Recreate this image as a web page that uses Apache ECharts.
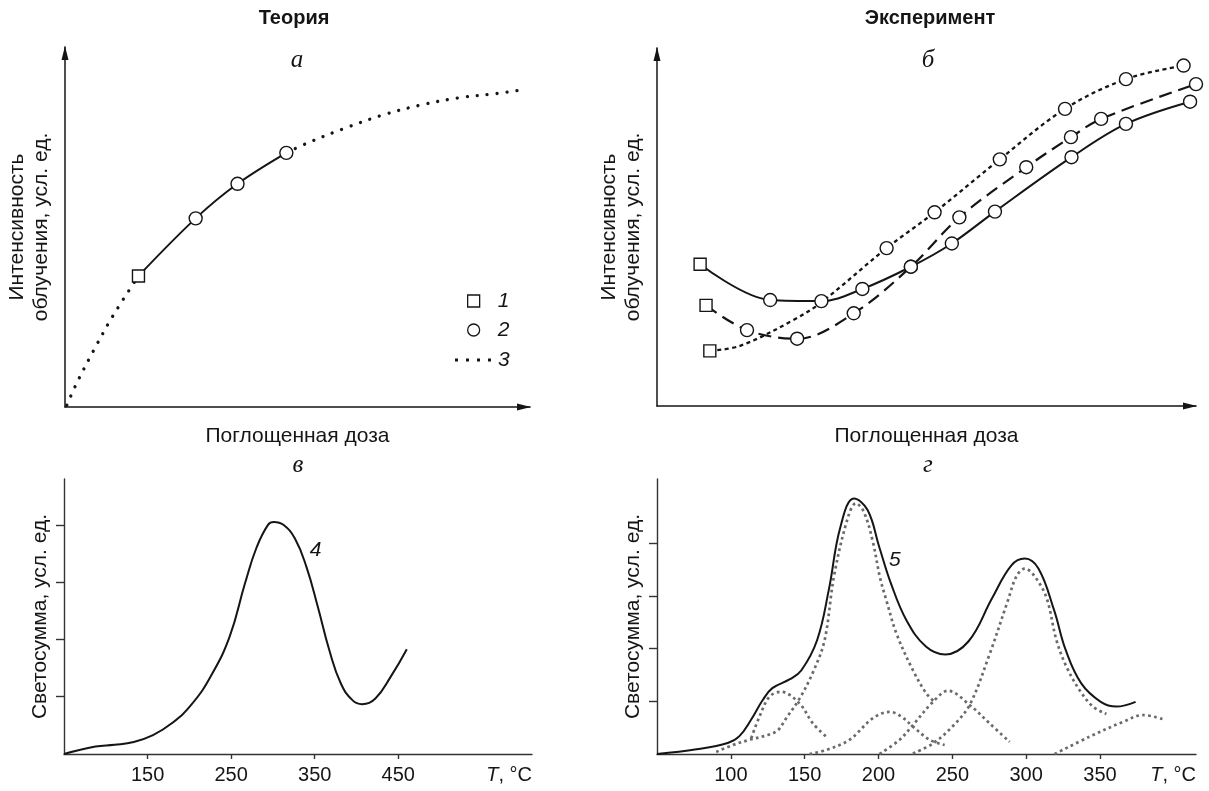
<!DOCTYPE html>
<html><head><meta charset="utf-8">
<script src="https://cdn.jsdelivr.net/npm/echarts@6/dist/echarts.min.js"></script>
<style>html,body{margin:0;padding:0;background:#fff}#c{width:1209px;height:791px}</style>
</head><body><div id="c"></div>
<script>
// ---------- Panel а (theory): dose vs intensity, arbitrary units 0..100 ----------
var aTheoryLow  = [[0.4,0.5],[2.5,6.6],[6.2,15.8],[10.2,25.1],[15.8,36.4]];
var aTheoryHigh = [[47.6,70.6],[51.9,73.2],[60.1,77.4],[68.3,81.1],[76.6,83.9],[84.8,85.9],[93.0,87.1],[98.3,88.1]];
var aSquare  = [15.8,36.4];
var aCircles = [[28.1,52.4],[37.1,62.0],[47.6,70.6]];

// ---------- Panel б (experiment) ----------
var bSolid  = [[8.0,39.6],[21.0,29.6],[30.5,29.3],[38.1,32.7],[47.1,38.9],[54.7,45.4],[62.7,54.3],[76.9,69.5],[87.0,78.8],[98.9,85.0]];
var bDashed = [[9.1,28.1],[16.7,21.2],[26.0,18.8],[36.5,25.9],[47.1,38.9],[56.1,52.7],[68.5,66.7],[76.8,75.1],[82.4,80.2],[100,89.9]];
var bDotted = [[9.8,15.4],[15.4,16.8],[25.3,24.0],[30.6,29.1],[42.6,44.1],[51.5,54.1],[63.6,68.9],[75.7,83.0],[87.0,91.3],[97.7,95.1]];
var bDottedMarks = bDotted.slice(4);

// ---------- Panel в: glow curve 4 (T, °C vs light sum) ----------
var vTicks = [150,250,350,450];
var vCurve = [[50,0],[87.6,0.13],[110.5,0.16],[133.5,0.21],[156.5,0.33],[179.4,0.54],[202.4,0.86],[225.3,1.35],[248.2,2.05],[266.6,2.98],[280.3,3.6],[294.1,4.0],[301,4.05],[312.5,4.0],[326.3,3.76],[340,3.27],[353.7,2.57],[367.5,1.81],[381.3,1.23],[395.1,0.94],[406.5,0.87],[422.6,0.97],[441,1.35],[460.2,1.83]];
var vLabel = [[351,3.56]];

// ---------- Panel г: glow curve 5 and its components ----------
var gTicks = [100,150,200,250,300,350];
var gSum = [[50,0],[76.8,0.09],[97.9,0.21],[105.8,0.34],[113.7,0.65],[121.5,1.02],[128.1,1.25],[140,1.42],[147.8,1.59],[158.4,2.16],[166.3,3.11],[174.2,4.31],[183.4,4.85],[192.6,4.63],[200.5,3.93],[208.4,3.24],[218.9,2.54],[232.1,2.04],[245.2,1.89],[261,2.14],[276.8,2.95],[290,3.58],[299.1,3.71],[308.3,3.52],[318.9,2.73],[326.8,1.97],[337.3,1.34],[350.5,0.99],[361,0.90],[374.1,0.99]];
var gComp1 = [[113.8,0.30],[119.4,0.71],[126.2,1.09],[134.1,1.18],[146.5,0.96],[155.6,0.58],[165.7,0.30]];
var gComp2 = [[90.1,0.04],[101.4,0.17],[112.7,0.27],[125,0.36],[131.8,0.45],[137.5,0.68],[146.5,1.05],[155.6,1.55],[163.5,2.16],[170,3.4],[179.4,4.5],[184.7,4.76],[190,4.6],[196,4.05],[201,3.35],[205.3,2.92],[212.1,2.29],[223.3,1.59],[232.4,1.15],[238,0.99]];
var gComp3 = [[153.3,0],[165,0.08],[180.4,0.27],[196.2,0.68],[207.5,0.8],[215,0.72],[223.3,0.52],[234.6,0.27],[244.8,0.17]];
var gComp4 = [[200.7,0],[214.3,0.27],[223.3,0.55],[236.9,0.99],[247,1.2],[261.7,0.93],[275.3,0.58],[288.8,0.23]];
var gComp5 = [[223.3,0.01],[236.9,0.2],[250,0.52],[261.7,0.93],[275.3,1.9],[287.7,2.92],[293.5,3.38],[299.1,3.52],[305,3.4],[313.6,2.98],[320.5,2.16],[327.2,1.66],[336.2,1.21],[345.2,0.9],[354.3,0.76]];
var gComp6 = [[319.3,0],[343,0.33],[365.6,0.61],[379.1,0.74],[393.8,0.65]];
var gLabel = [[211,3.68]];

var yTicks = [1,2,3,4];

// ---------- styling ----------
var FONT = '"Liberation Sans", Arial, sans-serif';
var INK = '#151515';
var GRAY = '#6a6a6a';
var markerStyle = {color:'#fff', borderColor:INK, borderWidth:1.4, opacity: 1};

function arrowAxis(gi, name, nameGap) {
  return {
    gridIndex: gi, type: 'value', min: 0, max: 100,
    axisLine: {show: true, onZero: false, symbol: ['none','triangle'], symbolSize: [7,14], symbolOffset: [0,-6], lineStyle: {color: INK, width: 1.5}},
    axisTick: {show: false}, axisLabel: {show: false}, splitLine: {show: false},
    name: name, nameLocation: 'middle', nameGap: nameGap,
    nameTextStyle: {fontFamily: FONT, fontSize: 21, color: INK, lineHeight: 24}
  };
}
function plainX(gi, min, max, ticks) {
  return {
    gridIndex: gi, type: 'value', min: min, max: max,
    axisLine: {show: true, onZero: false, lineStyle: {color: '#333', width: 1.4}},
    axisTick: {show: true, customValues: ticks, length: 5, lineStyle: {color: '#333', width: 1.4}},
    axisLabel: {show: true, customValues: ticks, margin: 11, fontFamily: FONT, fontSize: 20, color: INK},
    splitLine: {show: false},
    name: '{i|T}, °C', nameLocation: 'end', nameGap: 0,
    nameTextStyle: {align: 'right', verticalAlign: 'top', padding: [11,0,0,0], fontFamily: FONT, fontSize: 20, color: INK,
      rich: {i: {fontFamily: FONT, fontSize: 20, fontStyle: 'italic', color: INK}}}
  };
}
function plainY(gi, max) {
  return {
    gridIndex: gi, type: 'value', min: 0, max: max,
    axisLine: {show: true, onZero: false, lineStyle: {color: '#333', width: 1.4}},
    axisTick: {show: true, customValues: yTicks, length: 8, lineStyle: {color: '#333', width: 1.4}},
    axisLabel: {show: false}, splitLine: {show: false},
    name: 'Светосумма, усл. ед.', nameLocation: 'middle', nameGap: 13,
    nameTextStyle: {fontFamily: FONT, fontSize: 21, color: INK}
  };
}
function lineS(xi, data, color, width, type, z, name, cap, smooth) {
  var s = {type: 'line', xAxisIndex: xi, yAxisIndex: xi, data: data, symbol: 'none', smooth: smooth || 0.35,
    lineStyle: {color: color, width: width, type: type, cap: cap || 'butt'}, z: z || 2, silent: true};
  if (name) s.name = name;
  return s;
}
function legendItem(name, icon, left, top, w, h, itemStyle, pad) {
  return {data: [{name: name, icon: icon}], left: left, top: top, orient: 'vertical', padding: 0,
    itemWidth: w, itemHeight: h, selectedMode: false, itemStyle: itemStyle,
    textStyle: {fontFamily: FONT, fontSize: 21, fontStyle: 'italic', color: INK, lineHeight: 22, padding: [0,0,0,pad]}};
}
function curveLabel(xi, data, text) {
  return {type: 'scatter', xAxisIndex: xi, yAxisIndex: xi, data: data, symbolSize: 0, silent: true,
    itemStyle: {opacity: 1}, emphasis: {disabled: true},
    label: {show: true, formatter: text, position: 'inside', fontFamily: FONT, fontSize: 21, fontStyle: 'italic', color: INK}};
}

var dotPath = 'path://M0,0h3v3h-3z M11,0h3v3h-3z M22,0h3v3h-3z M33,0h3v3h-3z';

var option = {
  animation: false,
  backgroundColor: '#fff',
  grid: [
    {left: 65, top: 47, width: 465, height: 360},
    {left: 657, top: 48, width: 539, height: 358},
    {left: 64, top: 479, width: 468, height: 275},
    {left: 657, top: 479, width: 539, height: 275}
  ],
  xAxis: [
    arrowAxis(0, 'Поглощенная доза', 17),
    arrowAxis(1, 'Поглощенная доза', 18),
    plainX(2, 50, 610, vTicks),
    plainX(3, 50, 415, gTicks)
  ],
  yAxis: [
    arrowAxis(0, 'Интенсивность\nоблучения, усл. ед.', 12),
    arrowAxis(1, 'Интенсивность\nоблучения, усл. ед.', 12),
    plainY(2, 4.8),
    plainY(3, 5.22)
  ],
  legend: [
    legendItem('1', 'rect', 467, 290, 12, 12, {color: '#fff', borderColor: INK, borderWidth: 1.3}, 13),
    legendItem('2', 'circle', 467, 319, 12, 12, {color: '#fff', borderColor: INK, borderWidth: 1.3}, 13),
    legendItem('3', dotPath, 455, 349, 36, 3, {color: INK, borderWidth: 0}, 2)
  ],
  graphic: [
    {type: 'text', x: 294, y: 18, style: {text: 'Теория', font: 'bold 20px ' + FONT, fill: INK, align: 'center', verticalAlign: 'middle'}},
    {type: 'text', x: 930, y: 18, style: {text: 'Эксперимент', font: 'bold 20px ' + FONT, fill: INK, align: 'center', verticalAlign: 'middle'}},
    {type: 'text', x: 297, y: 60, style: {text: 'а', font: 'italic 25px "Liberation Serif", serif', fill: INK, align: 'center', verticalAlign: 'middle'}},
    {type: 'text', x: 928, y: 60, style: {text: 'б', font: 'italic 25px "Liberation Serif", serif', fill: INK, align: 'center', verticalAlign: 'middle'}},
    {type: 'text', x: 298, y: 465, style: {text: 'в', font: 'italic 25px "Liberation Serif", serif', fill: INK, align: 'center', verticalAlign: 'middle'}},
    {type: 'text', x: 928, y: 465, style: {text: 'г', font: 'italic 25px "Liberation Serif", serif', fill: INK, align: 'center', verticalAlign: 'middle'}}
  ],
  series: [
    // panel а
    lineS(0, aTheoryLow, INK, 3.3, [0.01, 10], 2, '3', 'round'),
    lineS(0, aTheoryHigh, INK, 3.3, [0.01, 10], 2, '3', 'round'),
    lineS(0, [aSquare].concat(aCircles), INK, 2, 'solid', 3),
    {type: 'scatter', name: '1', xAxisIndex: 0, yAxisIndex: 0, data: [aSquare], symbol: 'rect', symbolSize: 12, itemStyle: markerStyle, z: 5},
    {type: 'scatter', name: '2', xAxisIndex: 0, yAxisIndex: 0, data: aCircles, symbol: 'circle', symbolSize: 13, itemStyle: markerStyle, z: 5},
    // panel б
    lineS(1, bSolid, INK, 2, 'solid', 3),
    lineS(1, bDashed, INK, 2.2, [13, 7], 3),
    lineS(1, bDotted, INK, 2.3, [4, 3.5], 3),
    {type: 'scatter', name: '1', xAxisIndex: 1, yAxisIndex: 1, data: [bSolid[0], bDashed[0], bDotted[0]], symbol: 'rect', symbolSize: 12, itemStyle: markerStyle, z: 5},
    {type: 'scatter', name: '2', xAxisIndex: 1, yAxisIndex: 1, data: bSolid.slice(1).concat(bDashed.slice(1), bDottedMarks), symbol: 'circle', symbolSize: 13, itemStyle: markerStyle, z: 5},
    // panel в
    lineS(2, vCurve, INK, 2, 'solid', 3, null, 'butt', 0.45),
    curveLabel(2, vLabel, '4'),
    // panel г
    lineS(3, gComp1, GRAY, 2.7, [2.7, 3.3], 2),
    lineS(3, gComp2, GRAY, 2.7, [2.7, 3.3], 2),
    lineS(3, gComp3, GRAY, 2.7, [2.7, 3.3], 2),
    lineS(3, gComp4, GRAY, 2.7, [2.7, 3.3], 2),
    lineS(3, gComp5, GRAY, 2.7, [2.7, 3.3], 2),
    lineS(3, gComp6, GRAY, 2.7, [2.7, 3.3], 2),
    lineS(3, gSum, INK, 2, 'solid', 3, null, 'butt', 0.4),
    curveLabel(3, gLabel, '5')
  ]
};
var chart = echarts.init(document.getElementById('c'), null, {renderer: 'canvas'});
chart.setOption(option);
</script></body></html>
